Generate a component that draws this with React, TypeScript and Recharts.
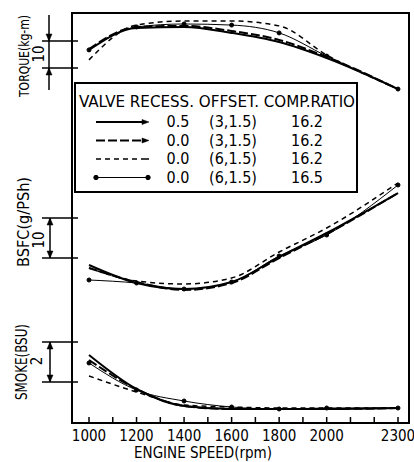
import React from "react";
import { ComposedChart, Line, XAxis, YAxis } from "recharts";

// engine speed (rpm)
const rpm = [1000, 1200, 1400, 1600, 1800, 2000, 2300];

// torque (kg-m)
const torqueA = [36.7, 44.8, 45.2, 43.0, 39.6, 33.7, 22.2];
const torqueB = [37.0, 45.2, 45.6, 43.7, 40.4, 34.1, 22.2];
const torqueC = [33.0, 45.9, 47.4, 47.4, 45.6, 34.8, 22.2];
const torqueD = [36.7, 45.2, 46.3, 45.9, 43.0, 34.4, 22.2];

// BSFC (g/PSh)
const bsfcA = [168.25, 163.75, 162.25, 164.0, 170.25, 176.25, 186.25];
const bsfcB = [167.5, 164.0, 162.0, 163.75, 170.0, 176.0, 186.25];
const bsfcC = [167.5, 164.25, 163.5, 165.0, 171.5, 177.5, 188.75];
const bsfcD = [164.5, 163.75, 162.25, 164.0, 170.5, 175.75, 188.25];

// smoke (BSU)
const smokeA = [3.35, 1.65, 0.8, 0.65, 0.65, 0.65, 0.7];
const smokeB = [3.1, 1.65, 0.8, 0.65, 0.65, 0.65, 0.7];
const smokeC = [2.3, 1.5, 0.85, 0.75, 0.7, 0.7, 0.7];
const smokeD = [2.95, 1.6, 1.05, 0.75, 0.65, 0.7, 0.7];

const xTicks = [1000, 1100, 1200, 1300, 1400, 1500, 1600, 1700, 1800, 1900, 2000, 2100, 2200, 2300];
const xTickLabels = [1000, 1200, 1400, 1600, 1800, 2000, 2300];

const legendRows = [
  { recess: "0.5", offset: "(3,1.5)", ratio: "16.2" },
  { recess: "0.0", offset: "(3,1.5)", ratio: "16.2" },
  { recess: "0.0", offset: "(6,1.5)", ratio: "16.2" },
  { recess: "0.0", offset: "(6,1.5)", ratio: "16.5" },
];

const data = rpm.map((r, i) => ({
  rpm: r,
  tA: torqueA[i], tB: torqueB[i], tC: torqueC[i], tD: torqueD[i],
  bA: bsfcA[i], bB: bsfcB[i], bC: bsfcC[i], bD: bsfcD[i],
  sA: smokeA[i], sB: smokeB[i], sC: smokeC[i], sD: smokeD[i],
}));

const FONT = "'Liberation Sans Narrow', 'DejaVu Sans Condensed', 'Roboto', sans-serif";

const styles = [
  { dash: undefined, width: 2, dot: false },
  { dash: "9 3", width: 2, dot: false },
  { dash: "5 4", width: 1.5, dot: false },
  { dash: undefined, width: 1, dot: true },
];

const XTick = (props: any) => {
  const { x, y, payload } = props;
  const labeled = xTickLabels.includes(payload.value);
  return (
    <g>
      <line x1={x} x2={x} y1={y} y2={y - 6} stroke="#000" strokeWidth={1.5} />
      {labeled && (
        <text x={x} y={y + 18} textAnchor="middle" fontSize={15} fontFamily={FONT} fill="#000">
          {payload.value}
        </text>
      )}
    </g>
  );
};

const ScaleBar = ({ y1, y2, outer }: { y1: number; y2: number; outer?: boolean }) => (
  <g stroke="#000" strokeWidth={1.5} fill="#000">
    <line x1={42} x2={78} y1={y1} y2={y1} />
    <line x1={42} x2={78} y1={y2} y2={y2} />
    {outer ? (
      <>
        <line x1={49} x2={49} y1={y1 - 26} y2={y2 + 22} />
        <path d={`M49 ${y1} l-3 -7 l6 0 z`} strokeWidth={0.5} />
        <path d={`M49 ${y2} l-3 7 l6 0 z`} strokeWidth={0.5} />
      </>
    ) : (
      <>
        <line x1={50} x2={50} y1={y1} y2={y2} />
        <path d={`M50 ${y1} l-3 7 l6 0 z`} strokeWidth={0.5} />
        <path d={`M50 ${y2} l-3 -7 l6 0 z`} strokeWidth={0.5} />
      </>
    )}
  </g>
);

const LegendSample = ({ i, y }: { i: number; y: number }) => {
  const s = styles[i];
  return (
    <g stroke="#000" fill="#000">
      <line x1={96} x2={146} y1={y} y2={y} strokeWidth={s.width} strokeDasharray={s.dash} />
      {i < 2 && <path d={`M149 ${y} l-7 -2.5 l0 5 z`} strokeWidth={0.5} />}
      {i === 2 && <line x1={146} x2={149} y1={y} y2={y} strokeWidth={1.5} />}
      {s.dot && (
        <>
          <circle cx={96} cy={y} r={2.2} />
          <circle cx={148} cy={y} r={2.2} />
        </>
      )}
    </g>
  );
};

const seriesKeys = [
  { axis: "t", keys: ["tA", "tB", "tC", "tD"] },
  { axis: "b", keys: ["bA", "bB", "bC", "bD"] },
  { axis: "s", keys: ["sA", "sB", "sC", "sD"] },
];

export default function App() {
  return (
    <div style={{ position: "absolute", left: 0, top: 0, width: 414, height: 462, background: "#fff" }}>
      <ComposedChart width={414} height={462} data={data} margin={{ top: 13, right: 5, bottom: 9, left: 72 }}>
        <XAxis
          dataKey="rpm"
          type="number"
          domain={[1000, 2300]}
          ticks={xTicks}
          interval={0}
          padding={{ left: 17, right: 11 }}
          height={30}
          axisLine={false}
          tickLine={false}
          tickSize={0}
          tickMargin={0}
          tick={<XTick />}
        />
        <YAxis yAxisId="t" hide type="number" domain={[-101.48, 50.37]} allowDataOverflow />
        <YAxis yAxisId="b" hide type="number" domain={[128.75, 231.25]} allowDataOverflow />
        <YAxis yAxisId="s" hide type="number" domain={[-0.05, 20.45]} allowDataOverflow />
        {seriesKeys.map((g) =>
          g.keys.map((k, i) => (
            <Line
              key={k}
              yAxisId={g.axis}
              dataKey={k}
              type="monotone"
              stroke="#000"
              strokeWidth={styles[i].width}
              strokeDasharray={styles[i].dash}
              dot={styles[i].dot ? { r: 2, fill: "#000", stroke: "#000" } : false}
              isAnimationActive={false}
            />
          ))
        )}
      </ComposedChart>
      <svg
        width={414}
        height={462}
        style={{ position: "absolute", left: 0, top: 0, pointerEvents: "none" }}
        fontFamily={FONT}
      >
        <rect x={72} y={13} width={337} height={410} fill="none" stroke="#000" strokeWidth={2} />
        <text x={203} y={458} textAnchor="middle" fontSize={15}>ENGINE SPEED(rpm)</text>

        <text transform="translate(24,56) rotate(-90)" textAnchor="middle" dominantBaseline="central" fontSize={14} textLength={82} lengthAdjust="spacingAndGlyphs">TORQUE(kg-m)</text>
        <text transform="translate(39,54) rotate(-90)" textAnchor="middle" dominantBaseline="central" fontSize={15}>10</text>
        <ScaleBar y1={41} y2={68} outer />

        <text transform="translate(24,222) rotate(-90)" textAnchor="middle" dominantBaseline="central" fontSize={15} textLength={90} lengthAdjust="spacingAndGlyphs">BSFC(g/PSh)</text>
        <text transform="translate(39,240) rotate(-90)" textAnchor="middle" dominantBaseline="central" fontSize={15}>10</text>
        <ScaleBar y1={218} y2={258} />

        <text transform="translate(22,362) rotate(-90)" textAnchor="middle" dominantBaseline="central" fontSize={15} textLength={76} lengthAdjust="spacingAndGlyphs">SMOKE(BSU)</text>
        <text transform="translate(37,361) rotate(-90)" textAnchor="middle" dominantBaseline="central" fontSize={15}>2</text>
        <ScaleBar y1={342} y2={382} />

        <rect x={75} y={83} width={282} height={109} fill="#fff" stroke="#000" strokeWidth={2} />
        <text x={79} y={107} fontSize={16} textLength={276} lengthAdjust="spacingAndGlyphs">VALVE RECESS. OFFSET. COMP.RATIO</text>
        {legendRows.map((r, i) => {
          const y = 122 + i * 18.5;
          return (
            <g key={i}>
              <LegendSample i={i} y={y} />
              <text x={178} y={y + 5} textAnchor="middle" fontSize={16}>{r.recess}</text>
              <text x={233} y={y + 5} textAnchor="middle" fontSize={16}>{r.offset}</text>
              <text x={307} y={y + 5} textAnchor="middle" fontSize={16}>{r.ratio}</text>
            </g>
          );
        })}
      </svg>
    </div>
  );
}
